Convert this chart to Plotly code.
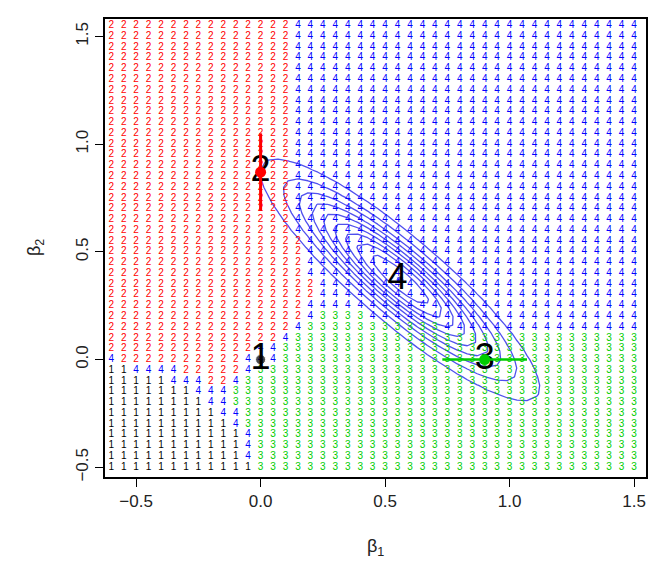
import numpy as np
import plotly.graph_objects as go

# ---------------- data ----------------
# grid of beta1 (columns) and beta2 (rows, top -> bottom)
B1_GRID = np.round(np.arange(-0.60, 1.5001, 0.05), 2)    # 43 columns
B2_GRID = np.round(np.arange(1.55, -0.5001, -0.05), 2)   # 42 rows

# selected model at each grid cell, run-length encoded per row (top -> bottom)
REGION_RUNS = (
    [[("2", 15), ("4", 28)]] * 20                        # 1.55 .. 0.60
    + [[("2", 16), ("4", 27)]] * 4                       # 0.55 .. 0.40
    + [[("2", 17), ("4", 26)]] * 2                       # 0.35, 0.30
    + [[("2", 16), ("4", 27)]]                           # 0.25
    + [[("2", 16), ("4", 1), ("3", 4), ("4", 22)]]       # 0.20
    + [[("2", 15), ("4", 1), ("3", 11), ("4", 16)]]      # 0.15
    + [[("2", 14), ("4", 1), ("3", 28)]]                 # 0.10
    + [[("2", 12), ("4", 2), ("3", 29)]]                 # 0.05
    + [[("4", 1), ("2", 10), ("4", 3), ("3", 29)]]       # 0.00
    + [[("1", 2), ("4", 4), ("2", 5), ("4", 1), ("3", 31)]]   # -0.05
    + [[("1", 5), ("4", 3), ("2", 2), ("4", 1), ("3", 32)]]   # -0.10
    + [[("1", 7), ("4", 3), ("3", 33)]]                  # -0.15
    + [[("1", 8), ("4", 2), ("3", 33)]]                  # -0.20
    + [[("1", 9), ("4", 2), ("3", 32)]]                  # -0.25
    + [[("1", 10), ("4", 1), ("3", 32)]]                 # -0.30
    + [[("1", 11), ("4", 1), ("3", 31)]] * 3             # -0.35 .. -0.45
    + [[("1", 12), ("3", 31)]]                           # -0.50
)

MODEL_COLORS = {"1": "black", "2": "red", "3": "#00CD00", "4": "blue"}

# model estimates
MODEL_LABELS = ["1", "2", "3", "4"]
EST_B1 = [0.0, 0.0, 0.90, 0.55]
EST_B2 = [0.0, 0.87, 0.0, 0.37]
DOT_COLORS = ["black", "red", "#00CD00", "blue"]
# intervals
M2_B2_INTERVAL = [0.69, 1.05]
M3_B1_INTERVAL = [0.73, 1.07]

# posterior (bivariate normal) for the contour
POST_MEAN = (0.56, 0.37)
POST_SD_MAJOR = 0.36
POST_SD_MINOR = 0.085
POST_ANGLE_DEG = -45.0
CONTOUR_LEVELS = (0.1, 0.9, 0.1)

# axis ticks
X_TICKS = [-0.5, 0.0, 0.5, 1.0, 1.5]
X_TICKTEXT = ["\u22120.5", "0.0", "0.5", "1.0", "1.5"]
Y_TICKS = [-0.5, 0.0, 0.5, 1.0, 1.5]
Y_TICKTEXT = ["\u22120.5", "0.0", "0.5", "1.0", "1.5"]

FONT = "Liberation Sans, Arial, Helvetica, sans-serif"

# ---------------- build ----------------
gx, gy, gt, gc = [], [], [], []
for r, runs in enumerate(REGION_RUNS):
    labels = "".join(lab * n for lab, n in runs)
    assert len(labels) == len(B1_GRID), (r, len(labels))
    for c, lab in enumerate(labels):
        gx.append(B1_GRID[c])
        gy.append(B2_GRID[r])
        gt.append(lab)
        gc.append(MODEL_COLORS[lab])

cx = np.arange(-0.65, 1.6, 0.04)
cy = np.arange(-0.6, 1.6, 0.04)
CX, CY = np.meshgrid(cx, cy)
th = np.deg2rad(POST_ANGLE_DEG)
dx, dy = CX - POST_MEAN[0], CY - POST_MEAN[1]
u = dx * np.cos(th) + dy * np.sin(th)
v = -dx * np.sin(th) + dy * np.cos(th)
Z = np.exp(-0.5 * ((u / POST_SD_MAJOR) ** 2 + (v / POST_SD_MINOR) ** 2))

fig = go.Figure()

CONTOUR_COLOR = "#5050ee"
fig.add_trace(go.Contour(
    x=cx, y=cy, z=Z,
    contours=dict(coloring="lines", start=CONTOUR_LEVELS[0],
                  end=CONTOUR_LEVELS[1], size=CONTOUR_LEVELS[2]),
    colorscale=[[0, CONTOUR_COLOR], [1, CONTOUR_COLOR]],
    line=dict(width=1.3, smoothing=0),
    showscale=False, hoverinfo="skip"))

fig.add_trace(go.Scatter(
    x=gx, y=gy, mode="text", text=gt,
    textfont=dict(family=FONT, size=10, color=gc),
    hoverinfo="skip"))

# dots for models 4 and 1 beneath the big labels
fig.add_trace(go.Scatter(
    x=[EST_B1[3] + 0.01, EST_B1[0]], y=[EST_B2[3], EST_B2[0]], mode="markers",
    marker=dict(size=[8, 10], color=[DOT_COLORS[3], DOT_COLORS[0]]),
    hoverinfo="skip"))

fig.add_trace(go.Scatter(
    x=EST_B1, y=EST_B2, mode="text", text=MODEL_LABELS,
    textfont=dict(family=FONT, size=36, color="black"),
    hoverinfo="skip"))

# intervals and dots for models 2 and 3 on top
fig.add_trace(go.Scatter(
    x=[EST_B1[1], EST_B1[1]], y=M2_B2_INTERVAL, mode="lines",
    line=dict(color="red", width=3), hoverinfo="skip"))
fig.add_trace(go.Scatter(
    x=M3_B1_INTERVAL, y=[EST_B2[2], EST_B2[2]], mode="lines",
    line=dict(color="#00CD00", width=2.5), hoverinfo="skip"))
fig.add_trace(go.Scatter(
    x=[EST_B1[1], EST_B1[2]], y=[EST_B2[1], EST_B2[2]], mode="markers",
    marker=dict(size=11, color=[DOT_COLORS[1], DOT_COLORS[2]]),
    hoverinfo="skip"))

axis_common = dict(
    showgrid=False, zeroline=False, showline=True, linewidth=2,
    linecolor="black", mirror=True, ticks="outside", ticklen=8,
    tickwidth=1, tickcolor="black",
    tickfont=dict(family=FONT, size=17, color="#222"))

# page has an 8px body margin; figure sized so the plot box lands where it should
fig.update_layout(
    width=651, height=566,
    margin=dict(l=97, r=13, t=9, b=97),
    plot_bgcolor="white", paper_bgcolor="white", showlegend=False,
    xaxis=dict(range=[-0.625, 1.548], tickvals=X_TICKS, ticktext=X_TICKTEXT,
               **axis_common),
    yaxis=dict(range=[-0.545, 1.581], tickvals=Y_TICKS, ticktext=Y_TICKTEXT,
               tickangle=-90, **axis_common),
    annotations=[
        dict(text="\u03b2<sub>1</sub>", xref="paper", yref="paper",
             x=0.5, y=0, yanchor="middle", yshift=-70, showarrow=False,
             font=dict(family=FONT, size=18, color="#222")),
        dict(text="\u03b2<sub>2</sub>", xref="paper", yref="paper",
             x=0, y=0.5, xanchor="center", xshift=-70, textangle=-90,
             showarrow=False,
             font=dict(family=FONT, size=18, color="#222")),
    ],
)

fig.write_html("out.html")
